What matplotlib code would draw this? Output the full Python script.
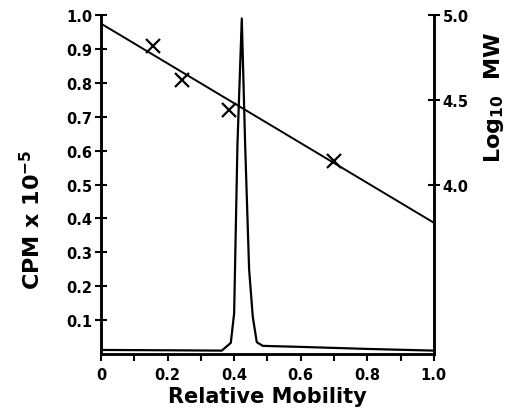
import matplotlib.pyplot as plt

# radioactivity trace (CPM x 10^-5) against relative mobility
mobility = [0.0, 0.20, 0.363, 0.39, 0.40, 0.41, 0.423, 0.433, 0.445, 0.456, 0.468, 0.486, 0.6, 0.8, 1.0]
cpm = [0.012, 0.011, 0.010, 0.033, 0.12, 0.62, 0.99, 0.62, 0.25, 0.11, 0.035, 0.024, 0.021, 0.015, 0.010]

# molecular weight standards
std_mobility = [0.156, 0.243, 0.385, 0.70]
std_logmw = [4.82, 4.62, 4.44, 4.14]

# fitted calibration line
fit_mobility = [0.0, 1.0]
fit_logmw = [4.95, 3.775]

plt.rcParams['font.family'] = 'DejaVu Sans'
plt.rcParams['font.weight'] = 'bold'

fig = plt.figure(figsize=(5.29, 4.14), dpi=100)
ax = fig.add_axes([0.191, 0.1425, 0.629, 0.8185])
ax2 = ax.twinx()

ax.plot(mobility, cpm, color='black', lw=1.6)
ax2.plot(fit_mobility, fit_logmw, color='black', lw=1.4)
ax2.plot(std_mobility, std_logmw, 'x', color='black', ms=10, mew=1.6)

ax.set_xlim(0, 1.0)
ax.set_ylim(0, 1.0)
ax2.set_ylim(3.0, 5.0)

for a in (ax, ax2):
    a.spines['top'].set_visible(False)
    for s in a.spines.values():
        s.set_linewidth(1.8)

ax.set_xticks([0, 0.2, 0.4, 0.6, 0.8, 1.0])
ax.set_xticklabels(['0', '0.2', '0.4', '0.6', '0.8', '1.0'])
ax.set_xticks([0.1, 0.3, 0.5, 0.7, 0.9], minor=True)
ax.tick_params(axis='x', which='both', direction='out', length=5, width=1.5,
               labelsize=10.5, pad=4)

ax.set_yticks([0.1, 0.2, 0.3, 0.4, 0.5, 0.6, 0.7, 0.8, 0.9, 1.0])
ax.set_yticklabels(['0.1', '0.2', '0.3', '0.4', '0.5', '0.6', '0.7', '0.8', '0.9', '1.0'])
ax.tick_params(axis='y', direction='inout', length=9, width=1.5, labelsize=10.5, pad=2)

ax2.set_yticks([4.0, 4.5, 5.0])
ax2.set_yticklabels(['4.0', '4.5', '5.0'])
ax2.tick_params(axis='y', direction='inout', length=9, width=1.5, labelsize=10.5, pad=2)

ax.set_xlabel('Relative Mobility', fontsize=15, fontweight='bold', labelpad=3)
ax.set_ylabel(r'CPM x 10$^{\mathbf{-5}}$', fontsize=16, fontweight='bold')
ax.yaxis.set_label_coords(-0.17, 0.40)
ax2.set_ylabel(r'Log$_{\mathbf{10}}$  MW', fontsize=16, fontweight='bold', rotation=90)
ax2.yaxis.set_label_coords(1.145, 0.76)

fig.savefig('out.png', dpi=100)
